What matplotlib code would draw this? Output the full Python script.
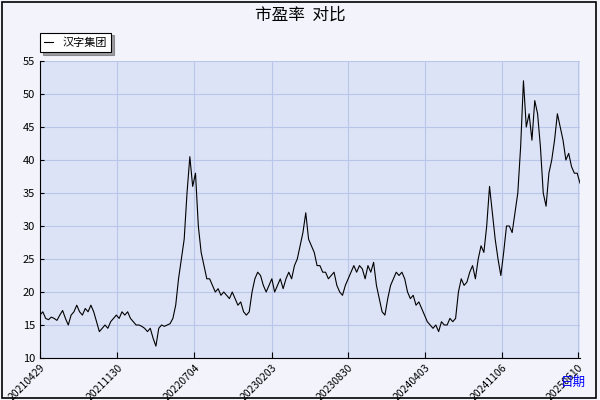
import matplotlib
matplotlib.use("Agg")
import matplotlib.pyplot as plt
import numpy as np

plt.rcParams['font.family'] = ['Noto Sans CJK SC', 'DejaVu Sans']

values = [16.5,17,16,15.8,16.2,16,15.7,
 16.5,17.2,16,15,16.5,
 17,18,17,16.5,17.5,17,18,17,
 15.5,14,14.5,15,14.5,15.5,
 16,16.5,16,17,16.5,17,16,
 15.5,15,15,14.8,14.5,14,14.5,
 13,11.8,
 14.5,15,14.8,15,15.2,16,
 18,22,25,28,
 35,40.5,36,38,
 30,26,24,22,
 22,21,20,20.5,19.5,20,19.5,19,
 20,19,18,18.5,17,16.5,17,
 20,22,23,22.5,21,
 20,21,22,20,21,22,20.5,
 22,23,22,24,25,27,
 29,32,28,27,26,24,
 24,23,23,22,22.5,23,
 21,20,19.5,21,22,23,
 24,23,24,23.5,22,24,23,24.5,
 21,19,17,16.5,
 19,21,22,23,22.5,23,22,
 20,19,19.5,18,18.5,17.5,
 16.5,15.5,15,14.5,15,14,15.5,15,
 15,16,15.5,16,
 20,22,21,21.5,
 23,24,22,25,27,26,
 30,36,32,28,25,22.5,
 26,30,30,29,32,
 35,42,52,45,47,43,
 49,47,42,35,33,38,
 40,43,47,45,43,
 40,41,39,38,38,36.5]
tick_labels = ['20210429','20211130','20220704','20230203','20230830','20240403','20241106','20250610']
tick_frac = [0, 0.143, 0.286, 0.429, 0.570, 0.713, 0.856, 0.996]

x = np.arange(len(values))
fig = plt.figure(figsize=(6,4), dpi=100, facecolor='#f2f3fb')
ax = fig.add_axes([40/600, 1-358/400, 540/600, 297/400])
ax.set_facecolor('#dde3f6')
ax.plot(x, values, color='black', lw=0.8, label='汉字集团')
ax.set_xlim(0, len(values)-1)
ax.set_ylim(10, 55)
ax.set_yticks(range(10, 56, 5))
xt = [f*(len(values)-1) for f in tick_frac]
ax.set_xticks(xt)
ax.set_xticklabels(tick_labels, rotation=45, ha='right', rotation_mode='anchor', fontsize=7.5)
ax.tick_params(axis='y', labelsize=8, direction='in', length=3)
ax.tick_params(axis='x', direction='in', length=4)
ax.grid(True, color='#b8c6ea', lw=0.8)
for s in ['top','right']:
    ax.spines[s].set_visible(False)
fig.text(0.5, 0.962, '市盈率  对比', ha='center', va='center', fontsize=12)
fig.text(0.955, 0.105-0.06, '日期', color='blue', fontsize=9, ha='center', va='center')
leg = ax.legend(loc='lower left', bbox_to_anchor=(0.0, 1.03), fontsize=8, fancybox=False,
                edgecolor='black', framealpha=1, handlelength=0.8, borderaxespad=0, shadow=True)
leg.get_frame().set_linewidth(0.8)
fig.patches.append(matplotlib.patches.Rectangle((0.003,0.005),0.99,0.99, transform=fig.transFigure,
                   fill=False, edgecolor='black', lw=1.2))
fig.savefig('out.png', dpi=100, facecolor=fig.get_facecolor())
